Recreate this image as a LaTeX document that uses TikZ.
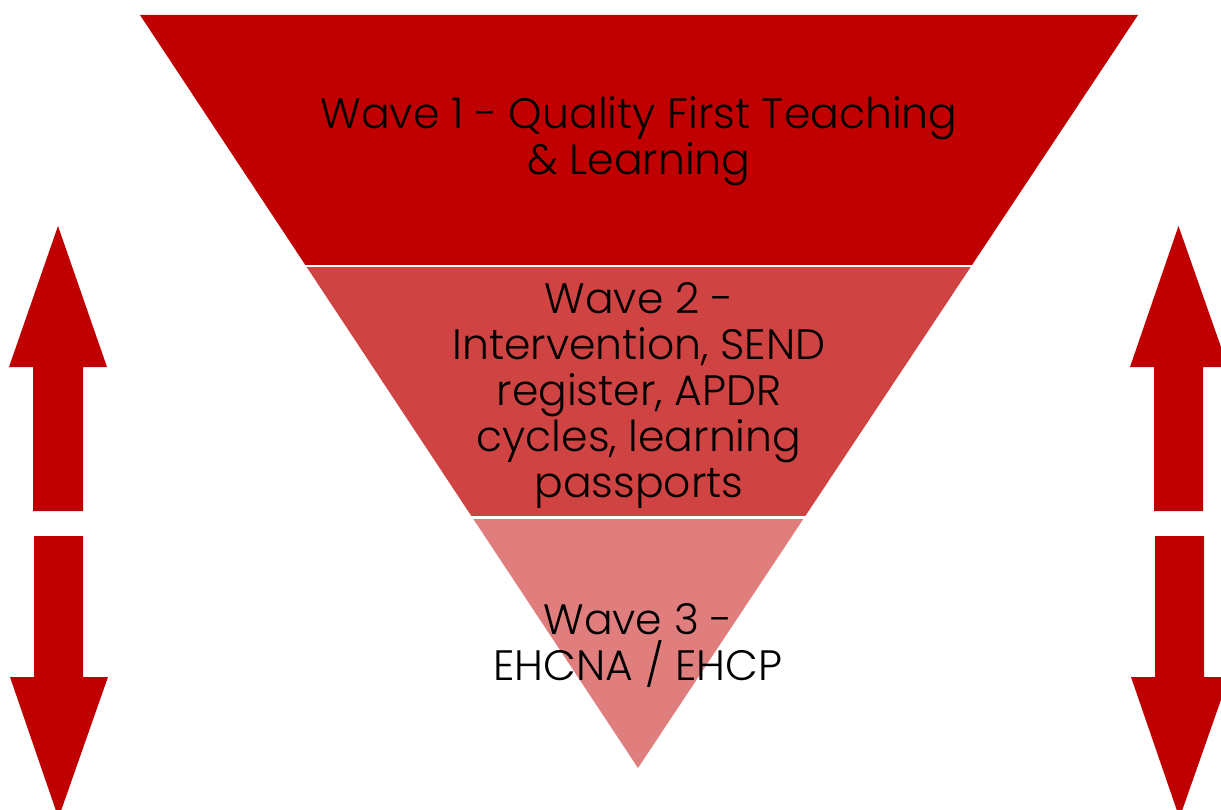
\documentclass[tikz,border=0pt]{standalone}
\usepackage{fontspec}
\setmainfont{Poppins}[UprightFont=* Light]
\usetikzlibrary{calc}
\definecolor{darkred}{HTML}{C00000}
\definecolor{midred}{HTML}{D04343}
\definecolor{lightred}{HTML}{E07E7E}
\tikzset{
  wavetext/.style={align=center,text=black,font=\fontsize{42.5}{46}\selectfont,inner sep=0pt},
  arrowshape/.style={fill=darkred,draw=none},
  gapline/.style={draw=white,line width=2.6pt}
}
\begin{document}
\begin{tikzpicture}[x=1pt,y=-1pt]
\useasboundingbox (0,0) rectangle (1221,810);
\coordinate (A) at (140,15);
\coordinate (B) at (1138,15);
\coordinate (C) at (638,768);
\coordinate (L1) at ($(A)!1/3!(C)$);
\coordinate (R1) at ($(B)!1/3!(C)$);
\coordinate (L2) at ($(A)!2/3!(C)$);
\coordinate (R2) at ($(B)!2/3!(C)$);
% bands
\fill[darkred] (A) -- (B) -- (R1) -- (L1) -- cycle;
\fill[midred] (L1) -- (R1) -- (R2) -- (L2) -- cycle;
\fill[lightred] (L2) -- (R2) -- (C) -- cycle;
\draw[gapline] ($(L1)+(-5,0)$) -- ($(R1)+(5,0)$);
\draw[gapline] ($(L2)+(-5,0.5)$) -- ($(R2)+(5,0.5)$);
% texts
\node[wavetext] (w1) at (639,141) {Wave 1 - Quality First Teaching\\\& Learning};
\node[wavetext] (w2) at (639,395) {Wave 2 -\\Intervention, SEND\\register, APDR\\cycles, learning\\passports};
\node[wavetext] (w3) at (638,646) {Wave 3 -\\EHCNA / EHCP};
% left arrows
\fill[arrowshape] (58,226) -- (107,367) -- (83,367) -- (83,511) -- (33,511) -- (33,367) -- (9,367) -- cycle;
\fill[arrowshape] (34,536) -- (83,536) -- (83,677) -- (108,677) -- (58.5,818) -- (10,677) -- (34,677) -- cycle;
% right arrows
\fill[arrowshape] (1178.5,226) -- (1228,367) -- (1203,367) -- (1203,511) -- (1154,511) -- (1154,367) -- (1130,367) -- cycle;
\fill[arrowshape] (1155,536) -- (1204,536) -- (1204,677) -- (1229,677) -- (1179.5,818) -- (1131,677) -- (1155,677) -- cycle;
\end{tikzpicture}
\end{document}
